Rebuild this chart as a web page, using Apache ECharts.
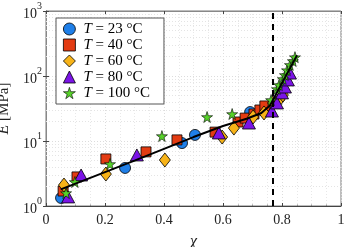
<!DOCTYPE html>
<html><head><meta charset="utf-8">
<script src="https://cdn.jsdelivr.net/npm/echarts@6/dist/echarts.min.js"></script>
<style>html,body{margin:0;padding:0;background:#fff}#c{width:346px;height:247px}</style>
</head><body><div id="c"></div>
<script>
// ---- data ----
const seriesNames = ['23', '40', '60', '80', '100'];
const chi23 = [0.051, 0.268, 0.461, 0.505, 0.692];
const E23   = [1.33, 3.85, 9.3, 12.4, 27.9];
const chi40 = [0.058, 0.105, 0.203, 0.339, 0.444, 0.573, 0.651, 0.675, 0.705, 0.725, 0.742];
const E40   = [1.7, 2.8, 5.3, 6.8, 10.4, 13.7, 19.6, 22.5, 26, 30, 34.6];
const chi60 = [0.061, 0.203, 0.403, 0.597, 0.637, 0.702, 0.739, 0.769, 0.79, 0.803];
const E60   = [2.1, 3.1, 5.1, 11.5, 15.8, 23.4, 27, 38.5, 42.7, 51];
const chi80 = [0.075, 0.119, 0.308, 0.586, 0.688, 0.766, 0.783, 0.8, 0.81, 0.82, 0.827];
const E80   = [1.38, 3.0, 6.1, 13.3, 18.9, 28.9, 38.5, 55, 67.7, 87, 111];
const chi100 = [0.068, 0.098, 0.217, 0.393, 0.546, 0.631, 0.763, 0.783, 0.79, 0.803, 0.81, 0.817, 0.827, 0.837, 0.844];
const E100   = [1.58, 2.34, 4.43, 11.9, 23.4, 26, 42.7, 63, 72.5, 90, 103.5, 123, 148, 170, 195];
const fitChi = [0.05, 0.3, 0.5, 0.6, 0.68, 0.73, 0.76, 0.8, 0.851];
const fitE   = [1.8, 5, 11.5, 17, 22, 27, 35.5, 78, 209];
const chiCritical = 0.77;
const xTicks = [0, 0.2, 0.4, 0.6, 0.8, 1];
const yTicks = [1, 10, 100, 1000];
const yMinorGrid = [2,3,4,5,6,7,8,9,20,30,40,50,60,70,80,90,200,300,400,500,600,700,800,900];

const zip = (a, b) => a.map((v, i) => [v, b[i]]);
const FONT = 'Liberation Serif';
const star = 'path://M50,0 L61,35 L98,35 L68,57 L79,91 L50,70 L21,91 L32,57 L2,35 L39,35 Z';

const markerDefs = [
  {data: zip(chi23, E23), symbol: 'circle', size: 11, color: '#1f7fe8', bw: 0.8},
  {data: zip(chi40, E40), symbol: 'rect', size: 10, color: '#e33b12', bw: 0.8},
  {data: zip(chi60, E60), symbol: 'diamond', size: [11, 14], color: '#f7b318', bw: 0.8},
  {data: zip(chi80, E80), symbol: 'triangle', size: [13, 12], color: '#7b14e6', bw: 0.8},
  {data: zip(chi100, E100), symbol: star, size: 11, color: '#57d12a', bw: 0.6}
];

const chart = echarts.init(document.getElementById('c'), null, {renderer: 'canvas'});
const series = markerDefs.map((m, i) => ({
  name: seriesNames[i],
  type: 'scatter',
  data: m.data,
  symbol: m.symbol,
  symbolSize: m.size,
  itemStyle: {color: m.color, borderColor: '#000', borderWidth: m.bw, opacity: 1},
  z: 3
}));
series.push({
  type: 'line', data: zip(fitChi, fitE), symbol: 'none', smooth: false,
  lineStyle: {color: '#000', width: 2}, z: 4, silent: true,
  markLine: {
    silent: true, symbol: 'none', label: {show: false}, z: 4,
    data: [{xAxis: chiCritical}],
    lineStyle: {color: '#000', width: 2, type: [6, 5]}
  }
});
series.push({
  type: 'line', data: [], z: 1, silent: true,
  markLine: {
    silent: true, symbol: 'none', label: {show: false}, z: 1,
    data: yMinorGrid.map(v => ({yAxis: v})),
    lineStyle: {color: '#e4e4e4', width: 1, type: [1, 2]}
  }
});

const yFmt = v => '{b|10}{s|' + Math.round(Math.log10(v)) + '}';
const option = {
  animation: false,
  backgroundColor: '#fff',
  grid: {left: 46, right: 5, top: 11, bottom: 41, show: true, borderColor: '#7a7a7a', borderWidth: 1,
    containLabel: false, outerBoundsMode: 'none'},
  legend: {
    left: 56, top: 18, orient: 'vertical', z: 20,
    data: seriesNames.map((n, i) => ({
      name: n, icon: markerDefs[i].symbol,
      itemStyle: {color: markerDefs[i].color, borderColor: '#000', borderWidth: markerDefs[i].bw}
    })),
    backgroundColor: '#fff', borderColor: '#555', borderWidth: 1,
    padding: [3, 14, 3, 7], itemGap: 0, itemWidth: 12, itemHeight: 12,
    textStyle: {fontFamily: FONT, fontSize: 15, color: '#000', lineHeight: 16, padding: [0, 0, 0, 3],
      rich: {i: {fontFamily: FONT, fontStyle: 'italic', fontSize: 15, lineHeight: 16}}},
    formatter: n => '{i|T} = ' + n + ' °C'
  },
  xAxis: [{
    type: 'value', min: 0, max: 1, interval: 0.2,
    name: 'χ', nameLocation: 'middle', nameGap: 28,
    nameTextStyle: {fontFamily: FONT, fontStyle: 'italic', fontSize: 16, color: '#222'},
    axisLine: {show: true, lineStyle: {color: '#444'}},
    axisTick: {show: true, inside: true, length: 3, lineStyle: {color: '#444'}},
    minorTick: {show: true, splitNumber: 4, length: 1.5, lineStyle: {color: '#888'}},
    axisLabel: {fontFamily: FONT, fontSize: 14, color: '#222', margin: 7,
      formatter: v => String(+v.toFixed(1))},
    splitLine: {show: true, lineStyle: {color: '#dcdcdc', type: [1, 2]}},
    minorSplitLine: {show: true, lineStyle: {color: '#e8e8e8', type: [1, 2]}}
  }, {
    type: 'value', min: 0, max: 1, interval: 0.2, position: 'top',
    axisLine: {show: true, lineStyle: {color: '#888'}},
    axisTick: {show: true, inside: true, length: 3, lineStyle: {color: '#444'}},
    axisLabel: {show: false}, splitLine: {show: false}
  }],
  yAxis: [{
    type: 'log', logBase: 10, min: 1, max: 1000,
    name: '{i|E} [MPa]', nameLocation: 'middle', nameGap: 24,
    nameTextStyle: {fontFamily: FONT, fontSize: 15, color: '#222',
      rich: {i: {fontFamily: FONT, fontStyle: 'italic', fontSize: 16}}},
    axisLine: {show: true, lineStyle: {color: '#444'}},
    axisTick: {show: true, inside: true, length: 3, lineStyle: {color: '#444'}},
    axisLabel: {fontFamily: FONT, color: '#222', margin: 4, formatter: yFmt,
      rich: {
        b: {fontFamily: FONT, fontSize: 14, color: '#222', lineHeight: 20, verticalAlign: 'bottom'},
        s: {fontFamily: FONT, fontSize: 10, color: '#222', lineHeight: 12, verticalAlign: 'top'}
      }},
    splitLine: {show: true, lineStyle: {color: '#dcdcdc', type: [1, 2]}}
  }, {
    type: 'log', logBase: 10, min: 1, max: 1000, position: 'right',
    axisLine: {show: true, lineStyle: {color: '#888'}},
    axisTick: {show: true, inside: true, length: 3, lineStyle: {color: '#444'}},
    axisLabel: {show: false}, splitLine: {show: false}
  }],
  series: series
};
chart.setOption(option);
</script></body></html>
